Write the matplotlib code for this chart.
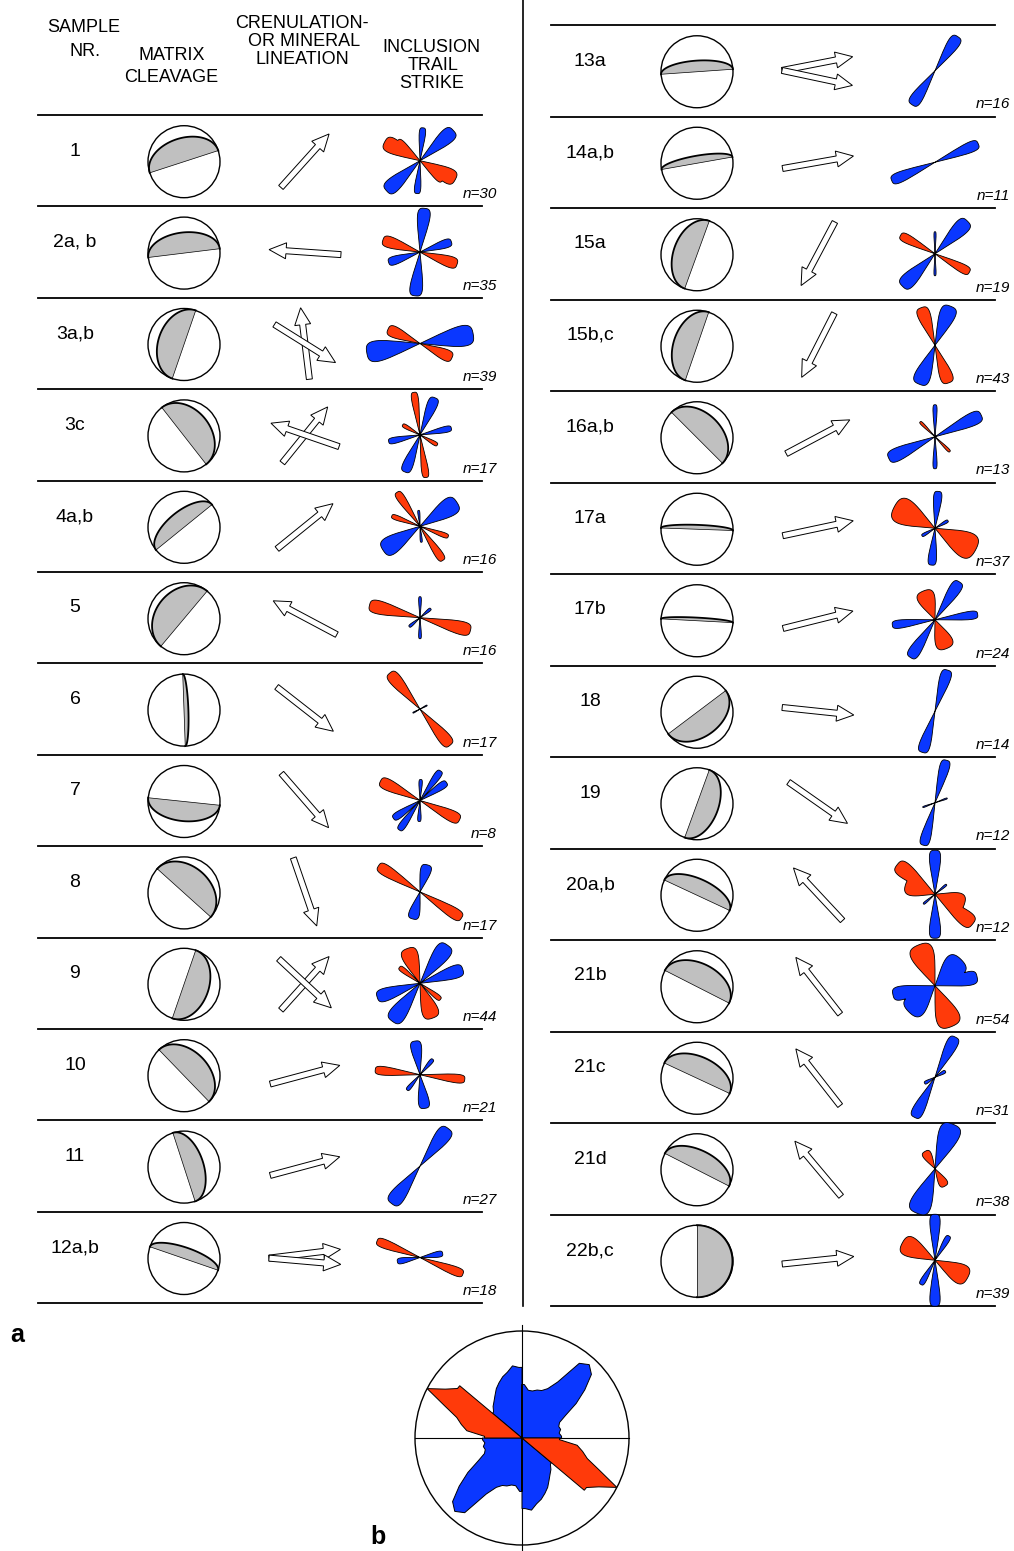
import numpy as np
import matplotlib.pyplot as plt
from matplotlib.patches import Circle, Polygon, FancyArrow

plt.rcParams['font.family'] = ['Liberation Sans', 'DejaVu Sans']

BLUE = "#0a37ff"
RED = "#ff3a0a"
GREY = "#c0c0c0"

# sample names and number of measurements
left_samples = ['1', '2a, b', '3a,b', '3c', '4a,b', '5', '6', '7', '8', '9', '10', '11', '12a,b']
right_samples = ['13a', '14a,b', '15a', '15b,c', '16a,b', '17a', '17b', '18', '19',
                 '20a,b', '21b', '21c', '21d', '22b,c']
left_n = [30, 35, 39, 17, 16, 16, 17, 8, 17, 44, 21, 27, 18]
right_n = [16, 11, 19, 43, 13, 37, 24, 14, 12, 12, 54, 31, 38, 39]

# matrix cleavage: (dip direction, dip)
left_cleavage = [(342, 49), (353, 55), (289, 44), (52, 41), (321, 63), (310, 37), (88, 83),
                 (186, 57), (42, 41), (109, 46), (46, 45), (72, 57), (19, 72)]
right_cleavage = [(356, 72), (350, 78), (290, 49), (289, 49), (45, 45), (2, 83), (3, 85),
                  (143, 46), (110, 53), (25, 63), (27, 49), (25, 53), (27, 57), (90, 10)]

# crenulation / mineral lineation trend(s)
left_lineation = [[42], [274], [353, 122], [39, 289], [51], [298], [128], [139], [161],
                  [42, 133], [75], [75], [83, 95]]
right_lineation = [[79, 102], [80], [208], [207], [62], [78], [76], [96], [125], [317],
                   [322], [322], [320], [84]]
shared_tail = ['12a,b', '13a']

# inclusion trail strike roses: lobes (azimuth, half width, length)
left_blue = [[(5, 6, 33), (48, 10, 45)],
             [(6, 9, 44), (72, 8, 33)],
             [(80, 12, 54)],
             [(22, 8, 40), (78, 6, 32)],
             [(57, 13, 44), (355, 4, 16)],
             [(0, 4, 21), (50, 6, 14)],
             [(62, 4, 8)],
             [(35, 6, 36), (56, 7, 32), (2, 5, 21)],
             [(15, 12, 28)],
             [(36, 11, 47), (72, 9, 45)],
             [(352, 10, 34), (40, 6, 20)],
             [(37, 10, 47)],
             [(80, 8, 23)]]
left_red = [[(118, 12, 40), (132, 7, 30)],
            [(108, 9, 39)],
            [(114, 10, 35)],
            [(352, 5, 43), (300, 6, 20)],
            [(326, 6, 41), (110, 5, 30)],
            [(104, 8, 52)],
            [(140, 8, 47)],
            [(116, 8, 44)],
            [(122, 7, 49)],
            [(340, 14, 37), (128, 6, 26)],
            [(96, 6, 45)],
            [],
            [(111, 6, 46)]]
right_blue = [[(34, 9, 41)],
              [(67, 7, 47)],
              [(45, 10, 46), (0, 3, 22)],
              [(22, 12, 42)],
              [(0, 4, 32), (65, 8, 51)],
              [(5, 7, 37), (60, 6, 15)],
              [(33, 8, 45), (83, 6, 43)],
              [(17, 8, 43)],
              [(15, 7, 44), (70, 3, 13)],
              [(0, 8, 44), (50, 4, 15)],
              [(45, 20, 37), (78, 10, 43)],
              [(27, 8, 45), (60, 8, 12)],
              [(22, 14, 48)],
              [(0, 7, 46), (30, 6, 28)]]
right_red = [[], [], [(118, 7, 39)], [(340, 10, 40)], [(135, 4, 21)], [(118, 18, 46)],
             [(338, 18, 31)], [], [], [(110, 20, 31), (128, 10, 48)], [(338, 17, 44)],
             [], [(330, 14, 20)], [(118, 17, 37)]]

# summary rose (b): 5 degree bins 0-175, fraction of circle radius
big_bins = list(range(0, 180, 5))
big_blue = [0.5, 0.45, 0.45, 0.47, 0.48, 0.52, 0.62, 0.88, 0.93, 0.88, 0.74, 0.6, 0.46, 0.38,
            0.36, 0.37, 0.35, 0.37, 0, 0, 0, 0, 0, 0, 0, 0, 0.36, 0.4, 0.43, 0.47, 0.52,
            0.56, 0.6, 0.63, 0.68, 0.66]
big_red = [0] * 18 + [0.35, 0.52, 0.58, 0.64, 0.78, 1.0, 0.85, 0.76] + [0] * 10


def to_xy(cx, cy, r, az):
    a = np.radians(az)
    return cx + r * np.sin(a), cy - r * np.cos(a)


def stereonet(ax, cx, cy, dipdir, dip, R=36):
    ax.add_patch(Circle((cx, cy), R, fc="white", ec="black", lw=1.0, zorder=2))
    b = np.cos(np.radians(dip))
    s = np.array(to_xy(0, 0, 1, dipdir - 90))
    d = np.array(to_xy(0, 0, 1, dipdir))
    t = np.linspace(0, np.pi, 80)
    px = cx + R * np.cos(t) * s[0] + b * R * np.sin(t) * d[0]
    py = cy + R * np.cos(t) * s[1] + b * R * np.sin(t) * d[1]
    ax.add_patch(Polygon(np.column_stack([px, py]), closed=True, fc=GREY, ec="none", zorder=3))
    ax.plot(px, py, color="black", lw=1.3, zorder=4)
    ax.plot([cx + R * s[0], cx - R * s[0]], [cy + R * s[1], cy - R * s[1]],
            color="black", lw=0.5, zorder=4)


def arrows(ax, cx, cy, trends, tail_mode, L=72):
    if tail_mode:
        mean = np.mean(trends)
        ux, uy = to_xy(0, 0, 1, mean)
        tx, ty = cx - 0.5 * L * ux, cy - 0.5 * L * uy
    for tr in trends:
        ux, uy = to_xy(0, 0, 1, tr)
        if not tail_mode:
            tx, ty = cx - 0.5 * L * ux, cy - 0.5 * L * uy
        ax.add_patch(FancyArrow(tx, ty, L * ux, L * uy, width=6, head_width=16,
                                head_length=17, length_includes_head=True,
                                fc="white", ec="black", lw=0.7, zorder=3))


def rose_radius(theta, lobes):
    r = np.zeros_like(theta)
    for az, hw, L in lobes:
        dd = np.abs((theta - az + 90) % 180 - 90)
        u = dd / (hw * 1.3)
        g = np.where(u < 1, np.clip(1 - u ** 4, 0, None) ** 0.25, 0)
        r = np.maximum(r, L * g)
    return r


def rose(ax, cx, cy, blue, red):
    theta = np.arange(0, 360, 0.5)
    for lobes, col in [(blue, BLUE), (red, RED)]:
        if not lobes:
            continue
        r = rose_radius(theta, lobes)
        x, y = to_xy(cx, cy, r, theta)
        ax.add_patch(Polygon(np.column_stack([x, y]), closed=True, fc=col, ec="black",
                             lw=0.6, zorder=3))


def big_outline(cx, cy, R, vals):
    # frequency polygon through bin centres, closed to the centre at run ends
    pts = [(cx, cy)]
    n = len(big_bins)
    for half in (0, 180):
        for i, (az, v) in enumerate(zip(big_bins, vals)):
            if v == 0:
                continue
            if i == 0 or vals[i - 1] == 0:
                pts.append((cx, cy))
                pts.append(to_xy(cx, cy, v * R, az + half))
            pts.append(to_xy(cx, cy, v * R, az + half + 2.5))
            if i == n - 1 or vals[i + 1] == 0:
                pts.append(to_xy(cx, cy, v * R, az + half + 5))
                pts.append((cx, cy))
    return np.array(pts)


fig = plt.figure(figsize=(10.14, 15.51), dpi=100)
ax = fig.add_axes([0, 0, 1, 1])
ax.set_xlim(0, 1014)
ax.set_ylim(1551, 0)
ax.axis("off")

# headers
hdr = dict(fontsize=13, ha="center", va="center")
ax.text(84, 28, "SAMPLE", **hdr)
ax.text(85, 51, "NR.", **hdr)
ax.text(172, 55, "MATRIX", **hdr)
ax.text(171, 78, "CLEAVAGE", **hdr)
ax.text(302, 23, "CRENULATION-", **hdr)
ax.text(304, 42, "OR MINERAL", **hdr)
ax.text(302, 60, "LINEATION", **hdr)
ax.text(431, 47, "INCLUSION", **hdr)
ax.text(433, 65, "TRAIL", **hdr)
ax.text(432, 83, "STRIKE", **hdr)

# divider
ax.plot([523, 523], [0, 1306], color="black", lw=1.2)

columns = [
    dict(top=115, step=91.4, x0=38, x1=482, lab_x=75, net_x=184, arr_x=305, rose_x=420,
         n_x=497, samples=left_samples, n=left_n, cleav=left_cleavage, lin=left_lineation,
         blue=left_blue, red=left_red),
    dict(top=25, step=91.5, x0=551, x1=995, lab_x=590, net_x=697, arr_x=818, rose_x=935,
         n_x=1010, samples=right_samples, n=right_n, cleav=right_cleavage,
         lin=right_lineation, blue=right_blue, red=right_red),
]

for col in columns:
    nrows = len(col["samples"])
    for i in range(nrows + 1):
        y = col["top"] + i * col["step"]
        ax.plot([col["x0"], col["x1"]], [y, y], color="black", lw=1.3, zorder=1)
    for i, name in enumerate(col["samples"]):
        top = col["top"] + i * col["step"]
        mid = top + col["step"] / 2
        ax.text(col["lab_x"], top + 36, name, fontsize=14, ha="center", va="center")
        dd, dip = col["cleav"][i]
        stereonet(ax, col["net_x"], mid + 1, dd, dip)
        arrows(ax, col["arr_x"], mid, col["lin"][i], name in shared_tail)
        rose(ax, col["rose_x"], mid, col["blue"][i], col["red"][i])
        ax.text(col["n_x"], top + col["step"] - 12, "n=%d" % col["n"][i], fontsize=11,
                style="italic", ha="right", va="center", zorder=5)

# summary rose diagram (b)
bx, by, BR = 522, 1438, 107
ax.add_patch(Circle((bx, by), BR, fc="white", ec="black", lw=1.0, zorder=1))
ax.plot([bx - BR, bx + BR], [by, by], color="black", lw=0.8, zorder=2)
ax.plot([bx, bx], [by - BR - 6, 1551], color="black", lw=0.8, zorder=2)
for vals, colr in [(big_blue, BLUE), (big_red, RED)]:
    ax.add_patch(Polygon(big_outline(bx, by, BR, vals), closed=True, fc=colr, ec="black",
                         lw=0.7, zorder=3))

ax.text(17, 1335, "a", fontsize=18, fontweight="bold", ha="center", va="center")
ax.text(378, 1537, "b", fontsize=18, fontweight="bold", ha="center", va="center")

fig.savefig("out.png", dpi=100)
